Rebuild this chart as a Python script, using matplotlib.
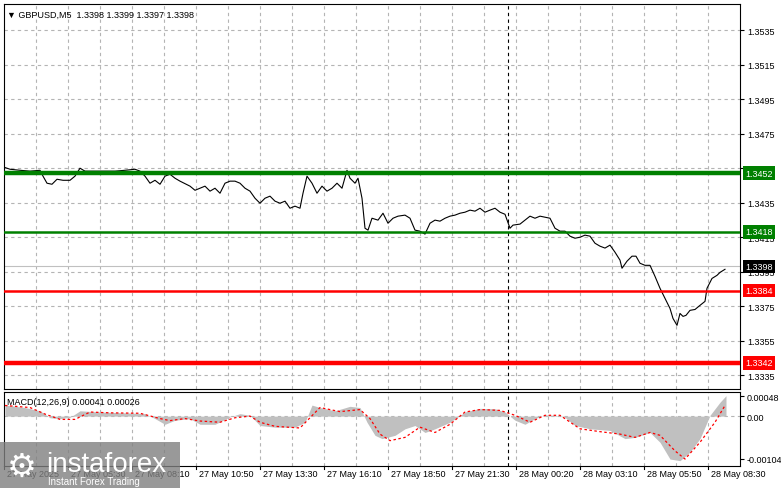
import numpy as np
import matplotlib
matplotlib.use("Agg")
import matplotlib.pyplot as plt
import matplotlib.transforms as mtrans
from matplotlib.patches import Rectangle

plt.rcParams["font.family"] = ["Liberation Sans", "DejaVu Sans"]

# price trace (bar index of M5 chart, close price)
price_bar = [0, 3, 8, 13, 18, 19.5, 21.5, 24, 26.5, 29.5, 33, 35.5, 38, 40.5, 45.5, 50.5, 55.5, 60.5,
             65.5, 68, 70.5, 73, 75.5, 78, 80.5, 83, 85.5, 88, 93, 95.5, 98, 100.5, 103, 105.5, 108,
             110.5, 113, 115.5, 118, 120.5, 123, 125.5, 128, 130.5, 133, 135.5, 138, 140.5, 143, 145.5,
             148, 149.5, 151.5, 154, 156.5, 159, 161.5, 164, 166.5, 169, 171.5, 173, 175.5, 177, 179,
             180.5, 182, 184, 187, 189.5, 192, 194.5, 197, 200.5, 203, 205.5, 208, 210.5, 213, 215.5,
             218, 220.5, 223, 225.5, 228, 230.5, 233, 235.5, 238, 240.5, 243, 245.5, 248, 250.5, 253,
             254.5, 258, 260.5, 263, 265.5, 268, 270.5, 273, 275.5, 278, 280.5, 283, 285.5, 288, 290.5,
             293, 295.5, 298, 300.5, 303, 305.5, 308, 309, 311.5, 314, 316, 318, 320.5, 323, 325.5, 328,
             330.5, 333, 334.5, 336.5, 338, 339.5, 341, 343, 345.5, 348, 350.5, 351.5, 354, 356.5, 358, 360.5]
price = [1.34555, 1.34543, 1.34537, 1.34532, 1.34537, 1.34503, 1.34462, 1.34456, 1.34485, 1.34479,
         1.34479, 1.34503, 1.34549, 1.34532, 1.34532, 1.34532, 1.34532, 1.34537, 1.34543, 1.34532,
         1.34503, 1.34462, 1.34479, 1.34456, 1.34503, 1.34514, 1.34491, 1.34474, 1.34445, 1.34421,
         1.34433, 1.34445, 1.34416, 1.34433, 1.34404, 1.34462, 1.34474, 1.34474, 1.34462, 1.34433,
         1.34416, 1.34375, 1.34346, 1.34375, 1.34387, 1.34358, 1.34346, 1.34358, 1.34317, 1.34329,
         1.34317, 1.34404, 1.34503, 1.34462, 1.34404, 1.34445, 1.34416, 1.34433, 1.34462, 1.34433,
         1.34537, 1.34491, 1.34462, 1.34491, 1.34375, 1.34201, 1.34190, 1.34259, 1.34248, 1.34288,
         1.34230, 1.34259, 1.34271, 1.34277, 1.34259, 1.34190, 1.34184, 1.34167, 1.34230, 1.34248,
         1.34242, 1.34259, 1.34271, 1.34277, 1.34288, 1.34294, 1.34306, 1.34300, 1.34317, 1.34294,
         1.34306, 1.34317, 1.34294, 1.34282, 1.34201, 1.34219, 1.34225, 1.34248, 1.34271, 1.34259,
         1.34271, 1.34265, 1.34259, 1.34201, 1.34184, 1.34184, 1.34155, 1.34143, 1.34149, 1.34161,
         1.34155, 1.34114, 1.34097, 1.34086, 1.34103, 1.34062, 1.34016, 1.33969, 1.34010, 1.34039,
         1.34039, 1.33998, 1.33986, 1.33986, 1.33922, 1.33853, 1.33794, 1.33736, 1.33678, 1.33638,
         1.33707, 1.33690, 1.33696, 1.33725, 1.33730, 1.33754, 1.33777, 1.33853, 1.33910, 1.33928,
         1.33945, 1.33963]

hist_bar = [0.5, 10.5, 18, 23, 28, 33, 38, 48, 60.5, 70.5, 75.5, 80.5, 85.5, 93, 98, 105.5, 113, 118,
            123, 128, 135.5, 145.5, 150.5, 154, 158, 165.5, 173, 178, 181.5, 185.5, 189, 195.5, 200.5,
            205.5, 210.5, 215.5, 223, 230.5, 238, 245.5, 250.5, 255.5, 260.5, 265.5, 270.5, 275.5,
            280.5, 285.5, 293, 303, 310.5, 315.5, 323, 328, 333, 338, 343, 348, 353, 358, 361]
hist_val = [27, 21, 13, -4, -6, -3, 13, 10, 8, 6, -6, -20, -10, -6, -20, -20, -2, 6, 2, -23, -27, -27,
            -15, 27, 21, 13, 24, 21, -15, -47, -55, -47, -31, -23, -40, -31, -15, 10, 19, 18, 10, -10,
            -20, -6, 3, 2, -3, -23, -31, -35, -55, -52, -40, -64, -105, -109, -88, -55, 2, 34, 50]
sig_bar = [0.5, 13, 20.5, 28, 35.5, 43, 53, 68, 78, 83, 90.5, 98, 108, 115.5, 123, 128, 135.5, 148,
           158, 168, 178, 183, 188, 193, 200.5, 208, 215.5, 223, 230.5, 238, 248, 255.5, 263, 270.5,
           278, 288, 298, 308, 315.5, 323, 328, 335.5, 340.5, 348, 355.5, 360.5]
sig_val = [26, 21, 5, -8, -8, 10, 8, 7, -6, -11, -6, -12, -15, -4, 0, -15, -25, -29, 21, 11, 16, -6,
           -44, -60, -52, -27, -40, -20, 10, 16, 14, 2, -15, 2, 2, -31, -38, -44, -52, -40, -47, -85,
           -105, -64, -15, 26]

time_labels = ["27 May 2025", "27 May 05:30", "27 May 08:10", "27 May 10:50", "27 May 13:30",
               "27 May 16:10", "27 May 18:50", "27 May 21:30", "28 May 00:20", "28 May 03:10",
               "28 May 05:50", "28 May 08:30"]
price_ticks = [1.3335, 1.3355, 1.3375, 1.3395, 1.3415, 1.3435, 1.3455, 1.3475, 1.3495, 1.3515, 1.3535]
levels = [(1.3452, "#008000", 3.2), (1.3418, "#008000", 1.8), (1.3384, "#ff0000", 1.8), (1.3342, "#ff0000", 3.2)]
last_price = 1.3398

W, H = 781, 489
fig = plt.figure(figsize=(W / 100, H / 100), dpi=100)
ax = fig.add_axes([4 / W, 1 - 390 / H, 736 / W, 385 / H])
mx = fig.add_axes([4 / W, 1 - 467 / H, 736 / W, 74 / H])

xmax = 368
grid_kw = dict(color="#b4b4b4", ls=(0, (3, 3)), lw=0.8)
for a in (ax, mx):
    a.set_xlim(0, xmax)
    for b in range(16, xmax, 16):
        a.axvline(b, zorder=0, **grid_kw)
    a.axvline(252, color="black", ls=(0, (3, 3)), lw=0.8, zorder=1)
    a.yaxis.tick_right()
    a.tick_params(axis="y", labelsize=6.5, length=3, pad=2)
    a.set_xticks([])
    for s in a.spines.values():
        s.set_linewidth(0.8)

ax.set_ylim(1.33269, 1.35501)
ax.set_yticks(price_ticks)
ax.set_yticklabels([f"{t:.4f}" for t in price_ticks])
for t in price_ticks:
    ax.axhline(t, zorder=0, **grid_kw)
ax.plot(price_bar, price, color="black", lw=0.8, zorder=3)

tr = mtrans.blended_transform_factory(ax.transAxes, ax.transData)
ax.axhline(last_price, color="#c0c0c0", lw=0.8, zorder=2)
box = dict(boxstyle="square,pad=0.25", ec="none")
ax.text(1.007, last_price, f"{last_price:.4f}", transform=tr, fontsize=6.5, color="white",
        va="center", ha="left", bbox=dict(fc="black", **box))
for lv, col, lw in levels:
    ax.axhline(lv, color=col, lw=lw, zorder=4)
    ax.text(1.007, lv, f"{lv:.4f}", transform=tr, fontsize=6.5, color="white", va="center",
            ha="left", bbox=dict(fc=col, **box))
ax.text(0.004, 0.985, "\u25bc GBPUSD,M5  1.3398 1.3399 1.3397 1.3398", transform=ax.transAxes,
        fontsize=6.5, va="top", ha="left")

scale = 1e-5
mx.set_ylim(-0.00122, 0.00059)
mx.set_yticks([0.00048, 0.0, -0.00104])
mx.set_yticklabels(["0.00048", "0.00", "-0.00104"])
mx.axhline(0, zorder=0, **grid_kw)
mx.fill_between(hist_bar, 0, np.array(hist_val) * scale, color="#c0c0c0", lw=0, zorder=2)
mx.plot(sig_bar, np.array(sig_val) * scale, color="red", lw=0.9, ls=(0, (2, 2)), zorder=3)
mx.text(0.004, 0.93, "MACD(12,26,9) 0.00041 0.00026", transform=mx.transAxes, fontsize=6.5,
        va="top", ha="left")

for i, lab in enumerate(time_labels):
    x = i * 32
    mx.plot([x, x], [-0.00122, -0.00130], color="black", lw=0.8, clip_on=False)
    mx.text(x + 1.5, -0.00130, lab, fontsize=6.5, va="top", ha="left", clip_on=False)

# watermark
fig.patches.append(Rectangle((0, 0), 180 / W, 46 / H, transform=fig.transFigure,
                             fc="#808080", alpha=0.8, ec="none", zorder=10))
fig.text(46 / W, 24 / H, "instaforex", fontsize=20, color="white", ha="left", va="center", zorder=11)
fig.text(48 / W, 7 / H, "Instant Forex Trading", fontsize=7, color="white", ha="left", va="center", zorder=11)
fig.text(22 / W, 22 / H, "\u2699", fontsize=24, color="white", ha="center", va="center", zorder=11,
         family="DejaVu Sans")

fig.savefig("out.png", dpi=100)
